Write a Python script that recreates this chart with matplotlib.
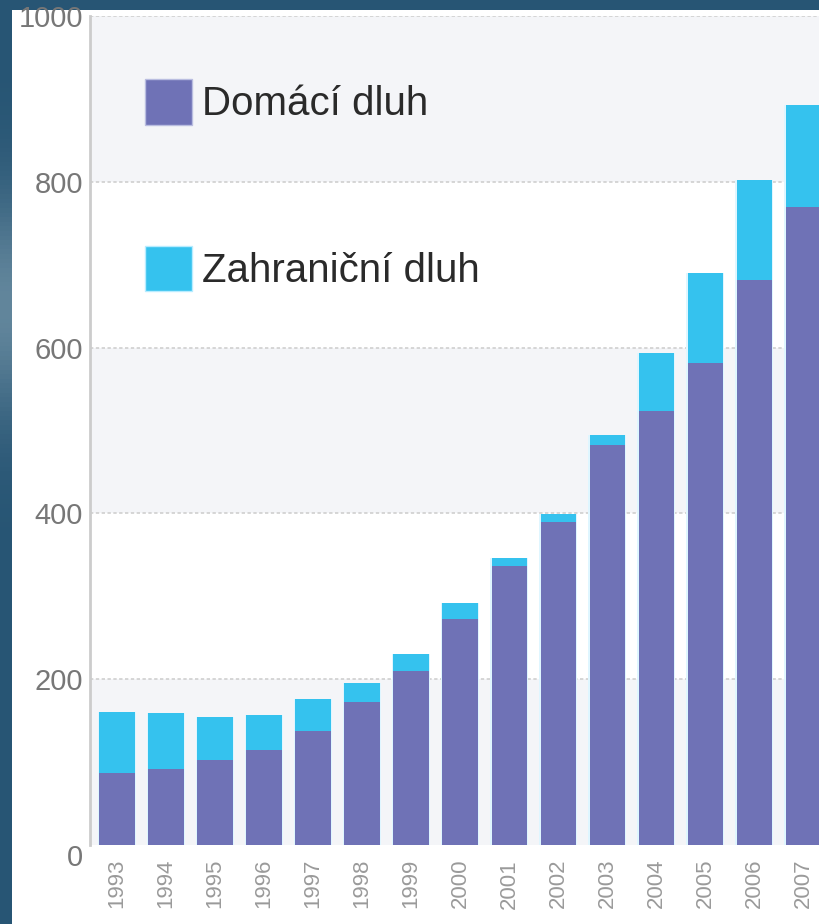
import numpy as np
import matplotlib.pyplot as plt
import matplotlib.transforms as mtransforms
from matplotlib.patches import Rectangle, Patch

# State debt of the Czech Republic (bn CZK)
years = ['1993', '1994', '1995', '1996', '1997', '1998', '1999', '2000',
         '2001', '2002', '2003', '2004', '2005', '2006', '2007']
domestic = [87, 92, 102, 114, 137, 172, 210, 273, 336, 390, 482, 523, 582, 681, 769]
total = [160, 159, 155, 157, 176, 196, 230, 292, 346, 399, 494, 594, 690, 802, 893]
foreign = [t - d for t, d in zip(total, domestic)]

dom_color = '#6f72b6'
for_color = '#35c2ee'

plt.rcParams['font.family'] = ['Liberation Sans', 'DejaVu Sans']

fig = plt.figure(figsize=(8.19, 9.24), dpi=100)

# dark blue page background with a soft lighter patch on the left
bg = fig.add_axes([0, 0, 1, 1])
grad = np.linspace(0, 1, 200)
shade = np.exp(-((grad - 0.33) / 0.12) ** 2)
img = np.zeros((200, 2, 3))
base = np.array([0x27, 0x55, 0x74]) / 255
light = np.array([0x62, 0x86, 0x9c]) / 255
for i, s in enumerate(shade):
    img[i, :, :] = base * (1 - s) + light * s
bg.imshow(img, aspect='auto', extent=[0, 1, 0, 1])
bg.set_xlim(0, 1)
bg.set_ylim(0, 1)
bg.axis('off')
bg.add_patch(Rectangle((12 / 819, 0), 1, (924 - 10) / 924,
                       facecolor='white', edgecolor='none'))

ax = fig.add_axes([90 / 819, 79 / 924, 729 / 819, 829 / 924])
ax.set_facecolor('white')

# alternating horizontal bands and dashed grid
for lo in (0, 400, 800):
    ax.axhspan(lo, lo + 200, color='#f4f5f8', zorder=0, lw=0)
for yv in (200, 400, 600, 800, 1000):
    ax.axhline(yv, color='#cfcfcf', lw=1.2, ls=(0, (2, 1.5)), zorder=1)

x = np.arange(len(years))
# soft glow behind each stacked bar
ax.bar(x, total, width=0.78, color='#dff6ff', lw=0, zorder=2)
ax.bar(x, domestic, width=0.72, color=dom_color, lw=0, zorder=3,
       label='Domácí dluh')
ax.bar(x, foreign, bottom=domestic, width=0.72, color=for_color, lw=0,
       zorder=3, label='Zahraniční dluh')

ax.set_xlim(-0.55, 14.32)
ax.set_ylim(0, 1000)
ax.set_yticks([0, 200, 400, 600, 800, 1000])
ax.set_xticks(x)
ax.set_xticklabels(years, rotation=90, va='top', ha='center')
ax.tick_params(axis='y', length=0, pad=5, labelsize=21, labelcolor='#777777')
ax.tick_params(axis='x', length=0, pad=10, labelsize=16, labelcolor='#9a9a9a')

# the zero label sits a little below its line
zero = ax.get_yticklabels()[0]
zero.set_transform(zero.get_transform() +
                   mtransforms.ScaledTranslation(0, -0.1, fig.dpi_scale_trans))

for side in ('top', 'right', 'bottom'):
    ax.spines[side].set_visible(False)
ax.spines['left'].set_color('#cccccc')
ax.spines['left'].set_linewidth(2)

handles = [Patch(facecolor=dom_color, edgecolor='#b9bde0', lw=1),
           Patch(facecolor=for_color, edgecolor='#b8ecff', lw=1)]
ax.legend(handles, ['Domácí dluh', 'Zahraniční dluh'], loc='upper left',
          bbox_to_anchor=(55 / 729, (845 - 79) / 829), frameon=False,
          fontsize=29, handlelength=1.17, handleheight=1.37,
          handletextpad=0.25, labelspacing=3.0, borderpad=0,
          borderaxespad=0, labelcolor='#2a2a2a')

fig.savefig('out.png', dpi=100)
